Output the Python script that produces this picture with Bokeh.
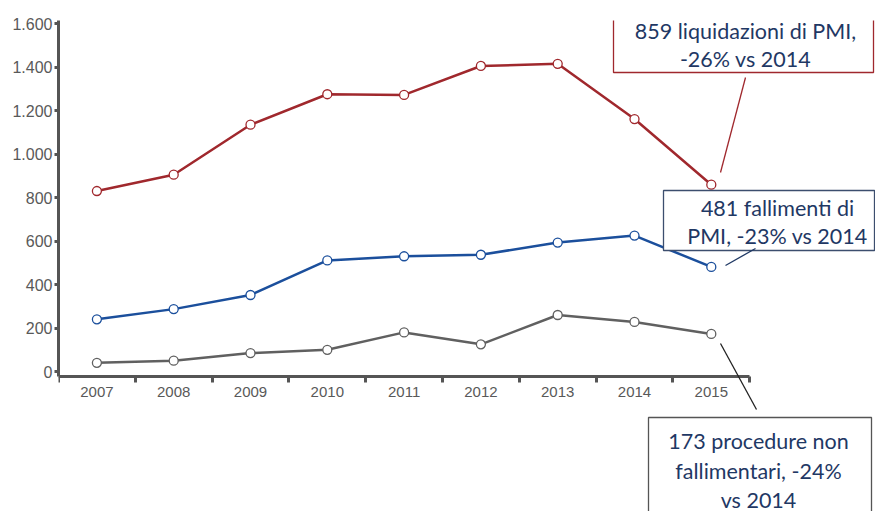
from bokeh.plotting import figure
from bokeh.embed import file_html
from bokeh.resources import INLINE
from bokeh.models import (Range1d, FixedTicker, Label, BoxAnnotation, Arrow, ColumnDataSource)

# ---- data ----
years = [2007, 2008, 2009, 2010, 2011, 2012, 2013, 2014, 2015]
liquidazioni = [830, 905, 1135, 1275, 1272, 1405, 1415, 1161, 859]
fallimenti = [240, 287, 352, 511, 530, 537, 593, 625, 481]
procedure = [40, 50, 85, 100, 180, 125, 260, 228, 173]
y_ticks = [0, 200, 400, 600, 800, 1000, 1200, 1400, 1600]
y_tick_labels = ["0", "200", "400", "600", "800", "1.000", "1.200", "1.400", "1.600"]

c_red = "#A0282D"
c_blue = "#1B4F9C"
c_gray = "#606060"
axis_c = "#555555"
txt_c = "#1F3864"

W, H = 875, 511
FL, FT = 58, 20          # frame left / top in window pixels
px_per_year = 76.8
px_per_unit = 0.2175
y_top = 1614
y_axis_bottom = -23

x_end = 2006.5 + (W - FL) / px_per_year
y_start = y_top - (H - FT) / px_per_unit

p = figure(width=W, height=H, output_backend="svg", toolbar_location=None,
           x_range=Range1d(2006.5, x_end), y_range=Range1d(y_start, y_top),
           min_border_left=FL, min_border_right=0, min_border_top=FT, min_border_bottom=0)
p.outline_line_color = None
p.xgrid.grid_line_color = None
p.ygrid.grid_line_color = None
p.background_fill_color = "white"
p.border_fill_color = "white"

# x axis (fixed at the bottom of the value range)
xa = p.xaxis[0]
xa.fixed_location = y_axis_bottom
xa.bounds = (2006.5, 2015.5)
xa.ticker = FixedTicker(ticks=years, minor_ticks=[y - 0.5 for y in years] + [years[-1] + 0.5])
xa.major_label_overrides = {y: str(y) for y in years}
xa.major_tick_out = 0
xa.major_tick_in = 0
xa.minor_tick_out = 6
xa.minor_tick_in = 0
xa.minor_tick_line_color = axis_c
xa.minor_tick_line_width = 3
xa.axis_line_color = axis_c
xa.axis_line_width = 3
xa.major_label_text_font = "Liberation Sans"
xa.major_label_text_font_size = "15px"
xa.major_label_text_color = "#595959"
xa.major_label_standoff = 4

# y axis
ya = p.yaxis[0]
ya.bounds = (y_axis_bottom, y_top)
ya.ticker = FixedTicker(ticks=y_ticks, minor_ticks=[])
ya.major_label_overrides = dict(zip(y_ticks, y_tick_labels))
ya.major_tick_out = 4
ya.major_tick_in = 0
ya.major_tick_line_color = axis_c
ya.major_tick_line_width = 3
ya.axis_line_color = axis_c
ya.axis_line_width = 3
ya.major_label_text_font = "Liberation Sans"
ya.major_label_text_font_size = "16px"
ya.major_label_text_color = "#595959"
ya.major_label_standoff = 2

src = ColumnDataSource(dict(x=years, liq=liquidazioni, fal=fallimenti, pro=procedure))
for col, c in [("liq", c_red), ("fal", c_blue), ("pro", c_gray)]:
    p.line("x", col, source=src, line_color=c, line_width=2.5)
    p.scatter("x", col, source=src, size=9, marker="circle", fill_color="white",
              line_color=c, line_width=1.3)

# helpers: window pixel -> frame screen units (origin frame bottom-left, y up)
def sx(X):
    return X - FL

def sy(Y):
    return H - Y

# annotation boxes
boxes = [
    (613, 873, 13, 72, c_red),
    (663, 874, 190, 250, "#3C4E6E"),
    (648, 871, 417, 530, "#555555"),
]
for l, r, t, b, bc in boxes:
    p.add_layout(BoxAnnotation(left=sx(l), right=sx(r), top=sy(t), bottom=sy(b),
                               left_units="screen", right_units="screen",
                               top_units="screen", bottom_units="screen",
                               fill_color="white", fill_alpha=1.0,
                               line_color=bc, line_alpha=1.0, line_width=1.3))

texts = [
    (745, 30, "859 liquidazioni di PMI,"),
    (745, 58, "-26% vs 2014"),
    (777, 207, "481 fallimenti di"),
    (777, 235, "PMI, -23% vs 2014"),
    (758, 440, "173 procedure non"),
    (758, 470, "fallimentari, -24%"),
    (758, 499, "vs 2014"),
]
for x, y, t in texts:
    p.add_layout(Label(x=sx(x), y=sy(y), x_units="screen", y_units="screen", text=t,
                       text_align="center", text_baseline="middle",
                       text_font="Lato", text_font_size="21.5px", text_color=txt_c))

leaders = [
    (745, 77, 720, 172, c_red),
    (725, 265, 755, 248, txt_c),
    (720, 343, 756, 409, "#222222"),
]
for x0, y0, x1, y1, lc in leaders:
    p.add_layout(Arrow(end=None, x_start=sx(x0), y_start=sy(y0), x_end=sx(x1), y_end=sy(y1),
                       start_units="screen", end_units="screen",
                       line_color=lc, line_width=1.3))

open("out.html", "w").write(file_html(p, INLINE))
